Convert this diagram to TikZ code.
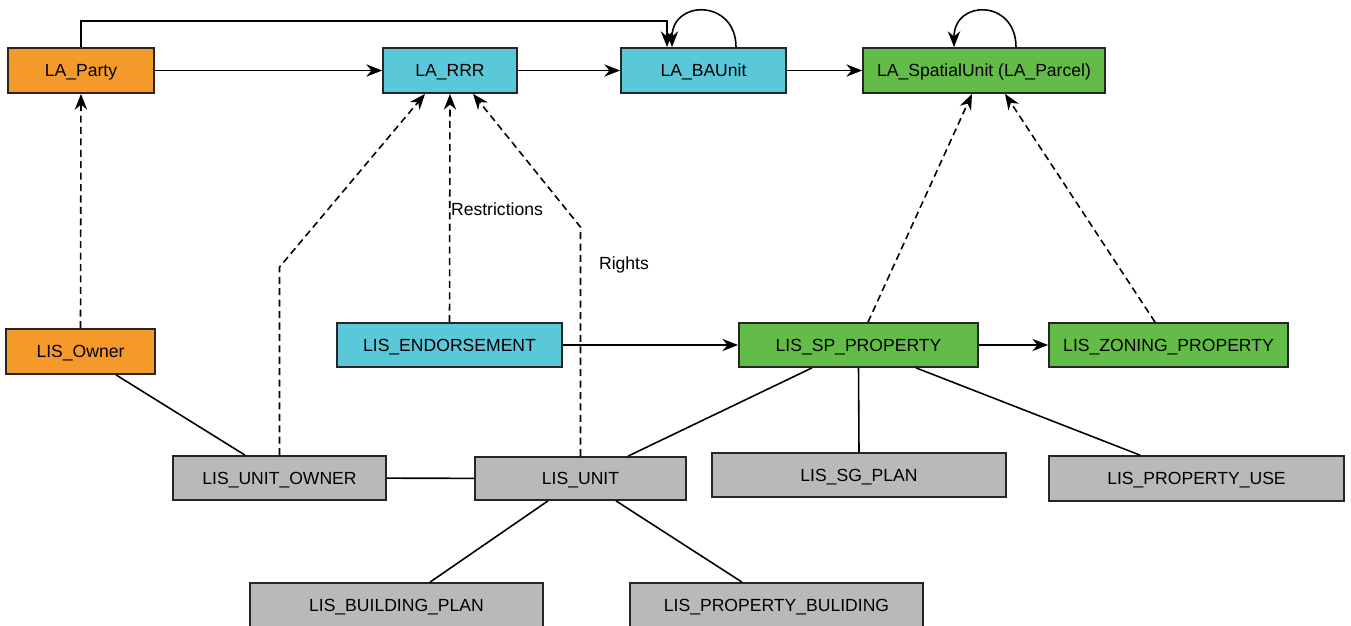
\documentclass[tikz,border=0pt]{standalone}
\usepackage{fontspec}
\setmainfont{Liberation Sans}
\usetikzlibrary{arrows.meta, positioning}

\definecolor{partyorange}{HTML}{F5992A}
\definecolor{rrrcyan}{HTML}{5BC8D9}
\definecolor{spatialgreen}{HTML}{63BC47}
\definecolor{lisgray}{HTML}{B8B9BB}

\begin{document}
\begin{tikzpicture}[x=0.02cm, y=-0.02cm, line width=0.9pt,
    >={Stealth[length=9pt,width=7pt]},
    box/.style={draw=black!85, line width=1pt, minimum height=0.9cm, inner sep=1pt, text height=7.2pt, text depth=0pt, font=\fontsize{10}{12}\selectfont},
    orangebox/.style={box, fill=partyorange},
    cyanbox/.style={box, fill=rrrcyan},
    greenbox/.style={box, fill=spatialgreen},
    graybox/.style={box, fill=lisgray},
    dep/.style={->, dash pattern=on 4pt off 2.5pt},
    lbl/.style={font=\fontsize{10}{12}\selectfont}]
    \useasboundingbox (0,0) rectangle (1351,625);
    \clip (0,0) rectangle (1351,625);

    \node[orangebox, minimum width=2.92cm] (party) at (81,70.5) {LA\_Party};
    \node[cyanbox, minimum width=2.68cm] (rrr) at (450,70.5) {LA\_RRR};
    \node[cyanbox, minimum width=3.3cm] (bau) at (703.5,70.5) {LA\_BAUnit};
    \node[greenbox, minimum width=4.84cm] (su) at (984,70.5) {LA\_SpatialUnit (LA\_Parcel)};

    \node[orangebox, minimum width=2.98cm] (owner) at (80.5,351.5) {LIS\_Owner};
    \node[cyanbox, minimum width=4.5cm, minimum height=0.88cm] (endo) at (449.5,345) {LIS\_ENDORSEMENT};
    \node[greenbox, minimum width=4.78cm, minimum height=0.88cm] (sp) at (858.5,345) {LIS\_SP\_PROPERTY};
    \node[greenbox, minimum width=4.78cm, minimum height=0.88cm] (zon) at (1168.5,345) {LIS\_ZONING\_PROPERTY};

    \node[graybox, minimum width=4.26cm, minimum height=0.88cm] (uo) at (279.5,478) {LIS\_UNIT\_OWNER};
    \node[graybox, minimum width=4.22cm, minimum height=0.86cm] (unit) at (580.5,478.5) {LIS\_UNIT};
    \node[graybox, minimum width=5.88cm, minimum height=0.88cm] (sg) at (859,475) {LIS\_SG\_PLAN};
    \node[graybox, minimum width=5.9cm] (pu) at (1196.5,478.5) {LIS\_PROPERTY\_USE};
    \node[graybox, minimum width=5.86cm] (bp) at (396.5,605.5) {LIS\_BUILDING\_PLAN};
    \node[graybox, minimum width=5.86cm] (pb) at (776.5,605.5) {LIS\_PROPERTY\_BULIDING};

    \node[lbl] (restr) at (497,209) {Restrictions};
    \node[lbl] (rights) at (624,265) {Rights};

    \draw[->] (party) -- (rrr);
    \draw[->] (rrr) -- (bau);
    \draw[->] (bau) -- (su);
    \draw[->] (endo) -- (sp);
    \draw[->] (sp) -- (zon);
    \draw[->] (party.north) -- ++(0,-26) -| ([xshift=-0.73cm]bau.north);
    \draw[->] ([xshift=0.65cm]bau.north) .. controls +(0,-48) and +(0,-48) .. ([xshift=-0.63cm]bau.north);
    \draw[->] ([xshift=0.64cm]su.north) .. controls +(0,-48) and +(0,-48) .. ([xshift=-0.6cm]su.north);

    \draw[dep] (owner.north) -- (party.south);
    \draw[dep] (uo.north) -- ++(0,-188) -- ([xshift=-0.5cm]rrr.south);
    \draw[dep] (endo.north) -- (rrr.south);
    \draw[dep] (unit.north) -- ++(0,-229) -- ([xshift=0.46cm]rrr.south);
    \draw[dep] ([xshift=0.19cm]sp.north) -- ([xshift=-0.24cm]su.south);
    \draw[dep] ([xshift=-0.27cm]zon.north) -- ([xshift=0.42cm]su.south);

    \draw ([xshift=0.71cm]owner.south) -- ([xshift=-0.69cm]uo.north);
    \draw (uo) -- (unit);
    \draw ([xshift=-0.93cm]sp.south) -- ([xshift=0.95cm]unit.north);
    \draw (sp.south) -- (sg.north);
    \draw ([xshift=1.15cm]sp.south) -- ([xshift=-1.13cm]pu.north);
    \draw ([xshift=-0.65cm]unit.south) -- ([xshift=0.67cm]bp.north);
    \draw ([xshift=0.71cm]unit.south) -- ([xshift=-0.69cm]pb.north);
\end{tikzpicture}
\end{document}
